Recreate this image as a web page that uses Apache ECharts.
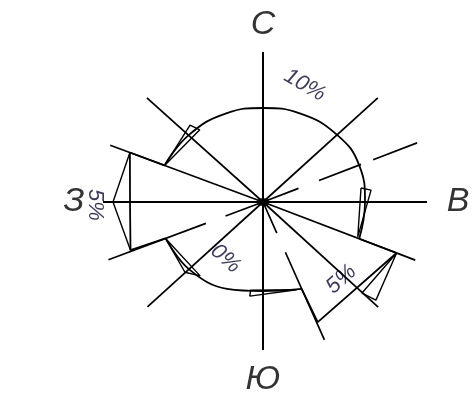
<!DOCTYPE html>
<html>
<head>
<meta charset="utf-8">
<script src="https://cdn.jsdelivr.net/npm/echarts@6/dist/echarts.min.js"></script>
<style>html,body{margin:0;padding:0;background:#fff}#c{width:475px;height:405px}</style>
</head>
<body>
<div id="c"></div>
<script>
// ---- data: [radius, angle(deg, clockwise from north)] ----
const axisNS = [[150, 0], [0, 0], [148, 180]];
const axisEW = [[164, 90], [0, 0], [160, 270]];
const diagonalSpokes = [[47.8, 155], [132.4, 156], [227.8, 156], [311.9, 156], [110.9, 163], [290.4, 163]];
const brokenSpokes = [
  [69, [[0, 38], [60, 105], [118, 165]]],
  [249.5, [[0, 40], [61, 165]]],
  [156, [[0, 34], [55, 151]]]
];
const ringTop = [[105, 290.4], [100, 312], [96, 337.5], [94, 360], [96, 22.5], [100, 47.8], [103, 69], [102, 90], [103, 110.9]];
const ringBottom = [[95, 156], [89, 180], [94, 202.5], [100, 227.8], [104, 249.5]];
const wedgeSE = [[103, 110.9], [143, 110.9], [132, 155.5], [95, 156]];
const wedgeW = [[104, 249.5], [141, 250], [133, 270], [142, 290.4], [105, 290.4]];
const arrowW = [[142, 290.4], [150, 270], [141, 250]];
const arrowE = [[99, 81.9], [108.7, 83.7], [101, 110.2], [99, 81.9]];
const arrowNW = [[105, 290.4], [106, 316.5], [96, 318.8], [105, 290.4]];
const arrowSW = [[104, 249.5], [105, 228], [97, 220.4], [104, 249.5]];
const arrowSE = [[143, 110.9], [134.5, 132.6], [149.6, 131], [143, 110.9]];
const arrowS = [[94, 159], [89, 188], [95, 188], [94, 159]];
const dirLabels = [['С', 177, 0], ['В', 195, 90], ['Ю', 178, 180], ['З', 189, 270]];
const pctLabels = [['10%', 124, 19.7, -30], ['5%', 110, 134.6, 42], ['0%', 68, 213.5, -42], ['5%', 168, 269, -90]];

// ---- build ----
const black = '#000';
function lineSeries(data, width, smooth) {
  return {
    type: 'line', coordinateSystem: 'polar', data: data, symbol: 'none',
    smooth: smooth || false, connectNulls: false, silent: true,
    lineStyle: { color: black, width: width }
  };
}
const series = [];
series.push(lineSeries(axisNS, 2));
series.push(lineSeries(axisEW, 2));
diagonalSpokes.forEach(function (s) { series.push(lineSeries([[s[1], s[0]], [0, s[0]]], 1.7)); });
brokenSpokes.forEach(function (s) {
  const d = [];
  s[1].forEach(function (seg, i) {
    if (i > 0) d.push(['-', '-']);
    d.push([seg[0], s[0]]); d.push([seg[1], s[0]]);
  });
  series.push(lineSeries(d, 1.7));
});
series.push(lineSeries(ringTop, 1.8, 0.45));
series.push(lineSeries(ringBottom, 1.8, 0.4));
series.push(lineSeries(wedgeSE, 1.8));
series.push(lineSeries(wedgeW, 1.8));
[arrowW, arrowE, arrowNW, arrowSW, arrowSE, arrowS].forEach(function (a) { series.push(lineSeries(a, 1.4)); });
series.push({
  type: 'scatter', coordinateSystem: 'polar', silent: true,
  data: [[0, 0]], symbol: 'circle', symbolSize: [13, 8], itemStyle: { color: black }
});
series.push({
  type: 'scatter', coordinateSystem: 'polar', silent: true, symbolSize: 0,
  data: dirLabels.map(function (l) { return { value: [l[1], l[2]], name: l[0] }; }),
  label: { show: true, position: 'inside', formatter: '{b}', color: '#000',
    fontFamily: 'Liberation Sans, Arial, sans-serif', fontStyle: 'italic', fontSize: 34 }
});
series.push({
  type: 'scatter', coordinateSystem: 'polar', silent: true, symbolSize: 0,
  data: pctLabels.map(function (l) {
    return { value: [l[1], l[2]], name: l[0], label: { rotate: l[3] } };
  }),
  label: { show: true, position: 'inside', formatter: '{b}', color: '#0a0a30',
    fontFamily: 'Liberation Sans, Arial, sans-serif', fontStyle: 'italic', fontSize: 22 }
});

const chart = echarts.init(document.getElementById('c'), null, { renderer: 'canvas' });
chart.setOption({
  animation: false,
  backgroundColor: '#fff',
  polar: { center: [263, 202], radius: 200 },
  angleAxis: { type: 'value', min: 0, max: 360, startAngle: 90, clockwise: true, show: false },
  radiusAxis: { type: 'value', min: 0, max: 200, show: false },
  series: series
});
</script>
</body>
</html>
